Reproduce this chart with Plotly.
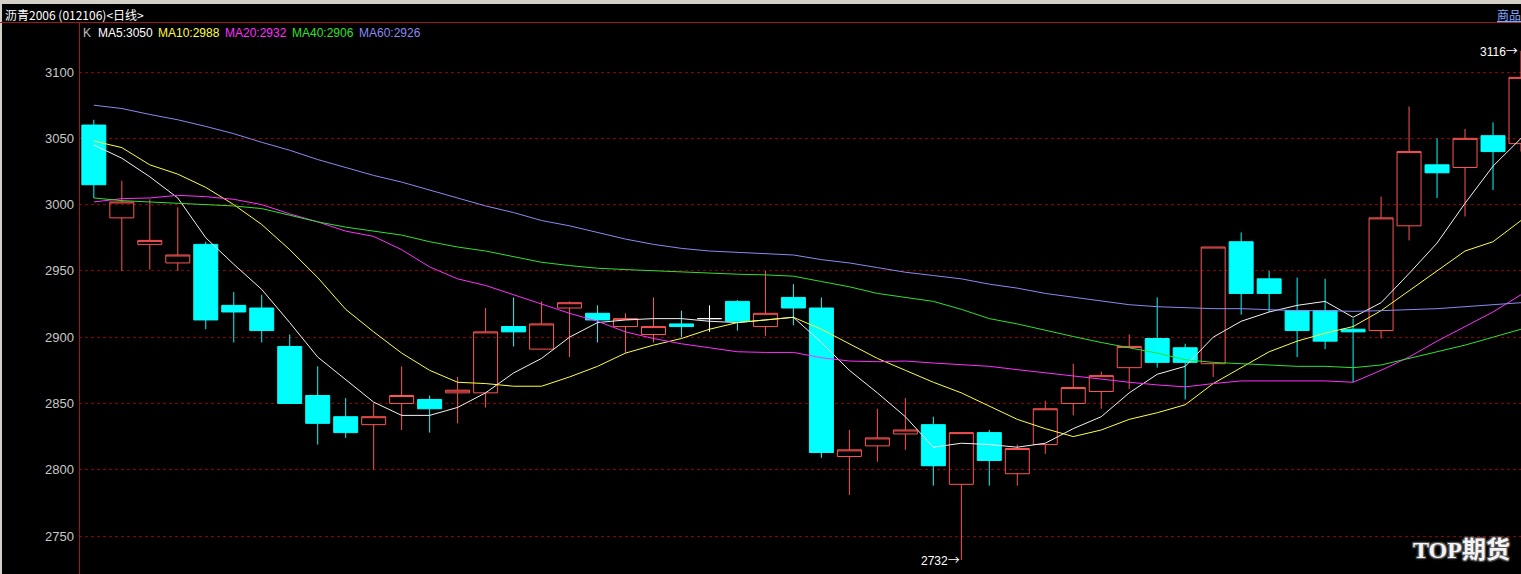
import plotly.graph_objects as go

# ---------------- data ----------------
idx = list(range(52))
opens = [3060, 2990, 2970, 2956, 2970, 2924, 2922, 2893, 2856, 2840,
         2834, 2850, 2853, 2858, 2858, 2908, 2891, 2922, 2918, 2908,
         2902, 2910, 2914, 2927, 2908, 2930, 2922, 2810, 2818, 2827,
         2834, 2789, 2828, 2797, 2819, 2850, 2859, 2877, 2899, 2892,
         2880, 2972, 2944, 2920, 2920, 2906, 2905, 2984, 3030, 3028,
         3052, 3046]
highs = [3064, 3018, 3004, 2998, 2972, 2934, 2932, 2902, 2878, 2854,
         2850, 2878, 2856, 2870, 2922, 2930, 2927, 2927, 2924, 2918,
         2930, 2920, 2924, 2928, 2950, 2940, 2930, 2830, 2846, 2854,
         2840, 2828, 2830, 2819, 2852, 2880, 2874, 2902, 2930, 2895,
         2968, 2979, 2950, 2945, 2944, 2914, 3006, 3074, 3050, 3057,
         3062, 3116]
lows = [3005, 2950, 2951, 2950, 2906, 2896, 2896, 2850, 2819, 2824,
        2800, 2830, 2828, 2835, 2847, 2893, 2891, 2885, 2896, 2888,
        2896, 2900, 2904, 2905, 2901, 2909, 2809, 2781, 2806, 2815,
        2788, 2732, 2788, 2788, 2812, 2841, 2846, 2861, 2877, 2853,
        2870, 2917, 2919, 2885, 2891, 2866, 2899, 2973, 3005, 2991,
        3011, 3040]
closes = [3015, 3002, 2973, 2962, 2913, 2919, 2905, 2850, 2835, 2828,
          2840, 2856, 2846, 2860, 2904, 2904, 2910, 2926, 2913, 2914,
          2908, 2908, 2914, 2912, 2918, 2922, 2813, 2815, 2824, 2830,
          2803, 2828, 2807, 2816, 2846, 2862, 2871, 2893, 2881, 2881,
          2968, 2933, 2933, 2905, 2897, 2904, 2990, 3040, 3024, 3050,
          3040, 3096]

ma5 = [3045, 3035, 3021, 3005, 2975, 2955, 2936, 2911, 2885, 2868,
       2851, 2841, 2841, 2847, 2858, 2873, 2884, 2900, 2911, 2913,
       2914, 2914, 2912, 2911, 2913, 2915, 2896, 2875, 2858, 2840,
       2817, 2820, 2819, 2817, 2820, 2831, 2840, 2858, 2872, 2878,
       2900, 2912, 2919, 2924, 2927, 2915, 2926, 2948, 2971, 3001,
       3029, 3050]
ma10 = [3048, 3043, 3030, 3023, 3013, 3000, 2985, 2966, 2945, 2921,
        2904, 2888, 2875, 2866, 2865, 2863, 2863, 2870, 2878, 2888,
        2894, 2899, 2906, 2911, 2913, 2915, 2906, 2895, 2884, 2875,
        2866, 2858, 2848, 2838, 2831, 2825, 2830, 2838, 2843, 2849,
        2865, 2877, 2889, 2897, 2903, 2908, 2920, 2935, 2950, 2965,
        2972, 2988]
ma20 = [3002, 3004.5, 3005, 3007, 3006, 3004, 3000, 2993, 2987, 2980,
        2976, 2966, 2953, 2944, 2939, 2932, 2924.5, 2918, 2912, 2904,
        2899, 2895, 2892, 2889, 2888.5, 2888.5, 2884.5, 2882, 2881.5, 2882,
        2880.5, 2879, 2878, 2875.5, 2873, 2870.5, 2868, 2866, 2864, 2862.5,
        2865, 2867, 2867, 2867, 2867, 2866, 2875, 2885, 2897, 2908,
        2919, 2932]
ma40 = [3005, 3003, 3002, 3001, 3000, 2999, 2997, 2992, 2987, 2983,
        2980, 2977, 2972, 2968, 2965, 2960.5, 2956.5, 2954, 2952, 2951,
        2950, 2949.5, 2948, 2947.5, 2947, 2946, 2942, 2938, 2933, 2930,
        2927, 2921, 2914, 2910, 2905, 2900.5, 2896, 2892, 2888, 2883,
        2881, 2880, 2879, 2878, 2878, 2877, 2879, 2884, 2889, 2894,
        2900, 2906]
ma60 = [3075, 3072.5, 3068, 3064, 3059, 3053.5, 3047, 3041, 3034, 3028,
        3022, 3017, 3011, 3005, 2999, 2994, 2988, 2984, 2979, 2974,
        2970, 2967, 2965, 2964, 2963, 2962, 2958.5, 2956, 2952.5, 2949,
        2946.5, 2944, 2940, 2937, 2933, 2930, 2927, 2924.5, 2923, 2922,
        2921.5, 2921.5, 2920.5, 2920, 2920, 2919.5, 2920, 2920.5, 2921.5, 2923,
        2924.5, 2926]

y_ticks = [2750, 2800, 2850, 2900, 2950, 3000, 3050, 3100]
legend_labels = ["K", "MA5:3050", "MA10:2988", "MA20:2932", "MA40:2906", "MA60:2926"]
title_text = "沥青2006 (012106)&lt;日线&gt;"
corner_text = "商品"
high_label = "3116"
low_label = "2732"
arrow = "→"
watermark = "TOP期货"

# ---------------- layout geometry ----------------
W, H = 1521, 574
ML, MT = 79, 23
PW, PH = W - ML, H - MT


def xp(px):
    return (px - ML) / PW


def yp(py):
    return (H - py) / PH


UP = "#ff5454"
DN = "#00ffff"
ma_colors = ["#f2f2f2", "#ffff40", "#ff30ff", "#30e030", "#8a8af0"]
legend_colors = ["#c0c0c0", "#ffffff", "#ffff40", "#ff30ff", "#30e030", "#8a8af0"]
legend_px = [81, 96, 156, 223, 290, 357]

fig = go.Figure()


def candle_trace(sel, color, fill):
    return go.Candlestick(
        x=[idx[i] for i in sel],
        open=[opens[i] for i in sel],
        high=[highs[i] for i in sel],
        low=[lows[i] for i in sel],
        close=[closes[i] for i in sel],
        increasing=dict(line=dict(color=color, width=1), fillcolor=fill),
        decreasing=dict(line=dict(color=color, width=1), fillcolor=fill),
        whiskerwidth=0,
        showlegend=False,
        hoverinfo="skip",
    )


up_sel = [i for i in idx if closes[i] > opens[i]]
dn_sel = [i for i in idx if closes[i] < opens[i]]
dj_sel = [i for i in idx if closes[i] == opens[i]]

fig.add_trace(candle_trace(up_sel, UP, "rgba(0,0,0,0)"))
fig.add_trace(candle_trace(dn_sel, DN, DN))
fig.add_trace(candle_trace(dj_sel, "#ffffff", "#ffffff"))

for series, col in zip([ma5, ma10, ma20, ma40, ma60], ma_colors):
    fig.add_trace(go.Scatter(x=idx, y=series, mode="lines",
                             line=dict(color=col, width=1),
                             showlegend=False, hoverinfo="skip"))

arrow_span = "<span style=\"font-family:'Noto Sans CJK SC'\">" + arrow + "</span>"

annotations = []
annotations.append(dict(xref="paper", yref="paper", x=xp(3), y=yp(14),
                        xanchor="left", yanchor="middle", showarrow=False,
                        text=title_text,
                        font=dict(family="Noto Sans CJK SC", size=12, color="#ffffff")))
annotations.append(dict(xref="paper", yref="paper", x=xp(1495), y=yp(14),
                        xanchor="left", yanchor="middle", showarrow=False,
                        text="<u>" + corner_text + "</u>",
                        font=dict(family="Noto Sans CJK SC", size=12, color="#80a8ff")))
for lab, col, px in zip(legend_labels, legend_colors, legend_px):
    annotations.append(dict(xref="paper", yref="paper", x=xp(px), y=yp(33),
                            xanchor="left", yanchor="middle", showarrow=False,
                            text=lab,
                            font=dict(family="Liberation Sans", size=12, color=col)))
annotations.append(dict(x=51, y=3116, xref="x", yref="y", xanchor="right",
                        yanchor="middle", xshift=-1, showarrow=False,
                        text=high_label + arrow_span,
                        font=dict(family="Liberation Sans", size=12, color="#ffffff")))
annotations.append(dict(x=31, y=2732, xref="x", yref="y", xanchor="right",
                        yanchor="middle", xshift=1, showarrow=False,
                        text=low_label + arrow_span,
                        font=dict(family="Liberation Sans", size=12, color="#ffffff")))
annotations.append(dict(xref="paper", yref="paper", x=xp(1461), y=yp(550),
                        xanchor="center", yanchor="middle", showarrow=False,
                        text="<b>" + watermark + "</b>",
                        font=dict(family="Liberation Serif, Noto Sans CJK SC", size=24,
                                  color="#f4f4f4",
                                  shadow="1px 1px 0 #555, -1px -1px 0 #555, 1px -1px 0 #555, -1px 1px 0 #555, 0 0 3px #aaa")))

shapes = [
    dict(type="rect", xref="paper", yref="paper", x0=xp(0), x1=xp(W), y0=yp(4), y1=yp(0),
         fillcolor="#d4d0c8", line=dict(width=0), layer="above"),
    dict(type="rect", xref="paper", yref="paper", x0=xp(0), x1=xp(2), y0=yp(H), y1=yp(0),
         fillcolor="#d4d0c8", line=dict(width=0), layer="above"),
    dict(type="line", xref="paper", yref="paper", x0=xp(0), x1=xp(W), y0=yp(22.5), y1=yp(22.5),
         line=dict(color="#a01818", width=1)),
    dict(type="line", xref="paper", yref="paper", x0=xp(79.5), x1=xp(79.5), y0=yp(22.5), y1=yp(H),
         line=dict(color="#a01818", width=1)),
]

fig.update_layout(
    width=W, height=H,
    margin=dict(l=ML, r=0, t=MT, b=0, pad=0),
    paper_bgcolor="#000000",
    plot_bgcolor="#000000",
    showlegend=False,
    boxgap=0.143,
    boxgroupgap=0,
    xaxis=dict(range=[-0.53, 51.0], visible=False, rangeslider=dict(visible=False),
               showgrid=False, zeroline=False, fixedrange=True),
    yaxis=dict(range=[2721.35, 3137.0], tickvals=y_ticks,
               ticktext=[str(v) for v in y_ticks],
               showgrid=True, gridcolor="#8c0000", griddash="dot", gridwidth=1,
               zeroline=False, showline=False, ticks="",
               tickfont=dict(family="Liberation Sans", size=13, color="#c8c8c8"),
               ticklabelstandoff=4, fixedrange=True),
    annotations=annotations,
    shapes=shapes,
)

fig.write_html("out.html",
               config={"displayModeBar": False},
               post_script="document.body.style.margin='0';document.body.style.overflow='hidden';")
